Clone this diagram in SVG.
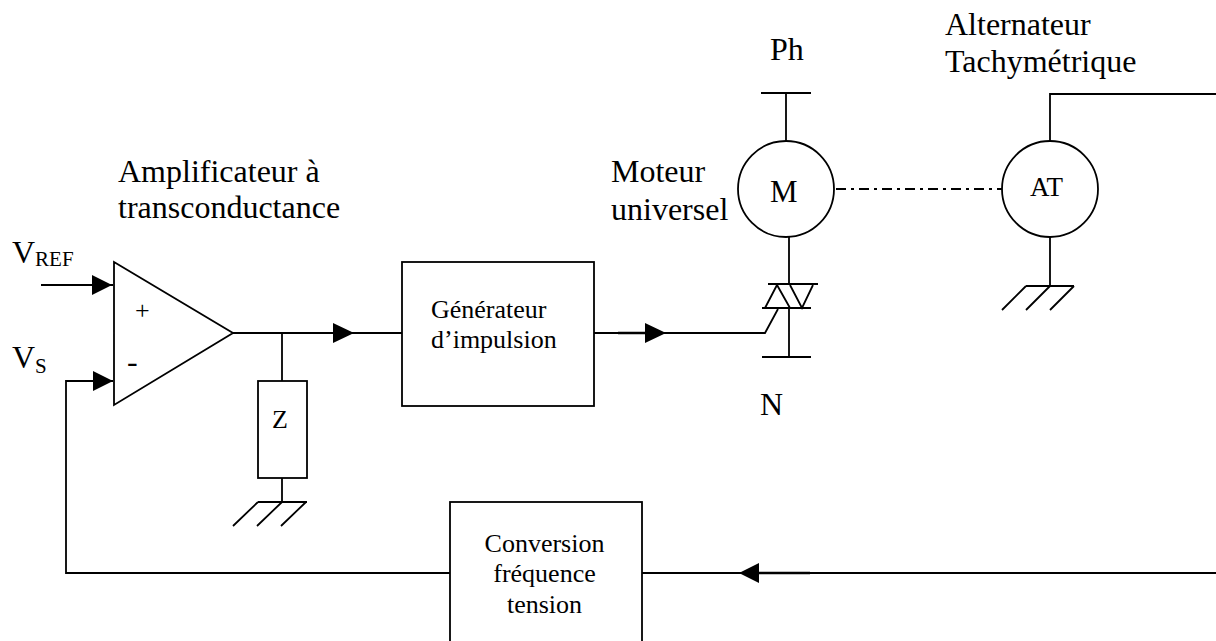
<svg xmlns="http://www.w3.org/2000/svg" width="1216" height="641" viewBox="0 0 1216 641">
<style>
text{font-family:"Liberation Serif","Times New Roman",serif;fill:#000}
.l{font-size:32px}.m{font-size:26px}
.s{fill:none;stroke:#000;stroke-width:1.8}
.t{fill:none;stroke:#000;stroke-width:2.6}
.w{fill:#fff;stroke:#000;stroke-width:1.8}
</style>
<rect width="1216" height="641" fill="#fff"/>
<g id="connectors">
<path class="s" d="M41 285H113M66 381H113M66 380V573H450M233 333H402M282 333V381M282 478V502M594 333H765L778 309M642 573H1216M786 93V141M761 93H811M789 237V284M789 308V357M762 357H811M1050 141V94H1216M1050 237V286"/>
<path class="s" stroke-dasharray="10 5 3 5" d="M836 189H1002"/>
<path class="t" d="M618 333H645M759 573H810"/>
<path d="M92 275L112 285L92 295Z M93 371L113 381L93 391Z M333 323L354 333L333 343Z M645 323L666 333L645 343Z M759 563L739 573L759 583Z"/>
<path class="s" d="M768 284H818M762 308H811M765 308L777 285L790 308M790 285L802 308L813 285"/>
<path class="s" d="M1026 286H1074M1026 286L1002 310M1050 286L1026 310M1074 286L1050 310"/>
<path class="s" d="M258 502H307M258 502L233 526M282 502L257 526M306 502L281 526"/>
</g>
<g id="amp"><path class="w" d="M114 262L233 333L114 405Z"/><text x="135" y="319" font-size="26">+</text><text x="127" y="372" class="l">-</text></g>
<g id="z"><rect class="w" x="258" y="381" width="49" height="97"/><text x="272" y="428" class="m">Z</text></g>
<g id="generateur"><rect class="w" x="402" y="262" width="192" height="144"/><text x="431" y="318" class="m">Générateur</text><text x="431" y="348" class="m">d’impulsion</text></g>
<g id="conversion"><rect class="w" x="450" y="502" width="192" height="150"/><text x="544.5" y="552" class="m" text-anchor="middle">Conversion</text><text x="544.5" y="582" class="m" text-anchor="middle">fréquence</text><text x="544.5" y="613" class="m" text-anchor="middle">tension</text></g>
<g id="moteur"><circle class="w" cx="786" cy="189" r="48"/><text x="770" y="202" font-size="31">M</text></g>
<g id="at"><circle class="w" cx="1050" cy="189" r="48"/><text x="1030" y="196" font-size="27">AT</text></g>
<g id="labels">
<text x="770" y="60" class="l">Ph</text><text x="945" y="35" class="l">Alternateur</text><text x="945" y="72" class="l">Tachymétrique</text>
<text x="611" y="182" class="l">Moteur</text><text x="611" y="220" class="l">universel</text>
<text x="118" y="182" class="l">Amplificateur à</text><text x="118" y="218" class="l">transconductance</text>
<text x="12" y="263" class="l">V<tspan font-size="21" dy="3">REF</tspan></text><text x="12" y="368" class="l">V<tspan font-size="21" dy="5">S</tspan></text>
<text x="760" y="415" class="l">N</text>
</g>
</svg>
